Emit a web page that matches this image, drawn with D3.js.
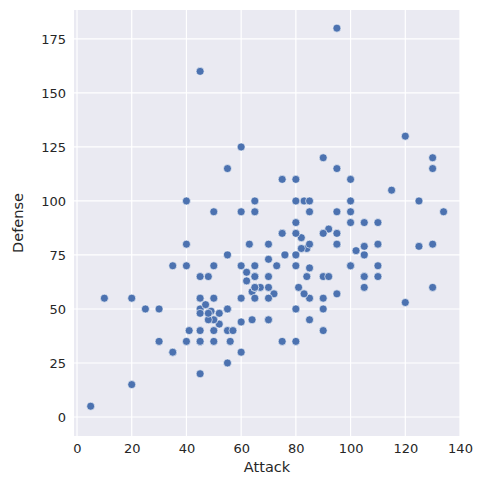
<!DOCTYPE html>
<html><head><meta charset="utf-8">
<script src="https://cdn.jsdelivr.net/npm/d3@7"></script>
<style>body{margin:0;background:#fff}text{font-family:"DejaVu Sans",sans-serif}</style>
</head><body><div id="chart"></div>
<script>
// Attack / Defense pairs
const attack = [49,62,82,52,64,84,48,63,83,30,20,45,35,25,90,45,60,80,56,81,60,90,60,85,55,90,75,100,47,62,92,57,72,102,45,70,41,76,45,70,45,80,50,65,80,70,95,55,65,55,80,45,70,52,82,80,105,70,110,50,65,95,20,35,50,80,100,130,75,90,105,40,70,80,95,120,85,100,65,75,35,60,65,85,110,45,70,80,105,65,95,35,50,65,45,48,73,105,130,30,50,40,95,50,80,120,105,55,65,90,85,130,5,55,95,40,65,67,92,45,75,45,110,50,83,95,125,100,10,125,85,48,55,65,65,130,60,40,60,80,115,105,110,85,90,100,64,84,134,110,100];
const defense = [49,63,83,43,58,78,65,80,100,35,55,50,30,50,40,40,55,75,35,60,30,65,44,69,40,55,85,110,52,67,87,40,57,77,48,73,40,75,20,45,35,70,55,70,85,55,80,50,60,25,50,35,60,48,78,35,60,45,80,40,65,95,15,30,45,50,70,80,35,50,65,35,65,100,115,130,55,70,65,110,70,95,55,45,70,55,80,50,75,100,180,30,45,60,160,45,70,90,115,50,70,80,85,95,110,53,79,75,95,120,95,120,5,115,80,70,95,60,65,55,85,65,80,35,57,57,100,95,55,79,80,48,50,60,60,60,70,100,125,90,105,65,65,100,85,90,45,65,95,90,100];
const xTicks = [0,20,40,60,80,100,120,140];
const yTicks = [0,25,50,75,100,125,150,175];

const W = 484, H = 484;
const m = {left: 74, right: 24, top: 10, bottom: 48};
const svg = d3.select("#chart").append("svg").attr("width", W).attr("height", H);

const x = d3.scaleLinear().domain([-1.1, 140]).range([m.left, W - m.right]);
const y = d3.scaleLinear().domain([-8.8, 188.4]).range([H - m.bottom, m.top]);

svg.append("rect").attr("x", m.left).attr("y", m.top)
  .attr("width", W - m.left - m.right).attr("height", H - m.top - m.bottom).attr("fill", "#eaeaf2");

const grid = svg.append("g").attr("stroke", "#fff").attr("stroke-width", 1.2);
xTicks.forEach(t => grid.append("line").attr("x1", x(t)).attr("x2", x(t)).attr("y1", m.top).attr("y2", H - m.bottom));
yTicks.forEach(t => grid.append("line").attr("y1", y(t)).attr("y2", y(t)).attr("x1", m.left).attr("x2", W - m.right));

const xa = svg.append("g").attr("transform", `translate(0,${H - m.bottom})`)
  .call(d3.axisBottom(x).tickValues(xTicks).tickSize(0).tickPadding(8));
const ya = svg.append("g").attr("transform", `translate(${m.left},0)`)
  .call(d3.axisLeft(y).tickValues(yTicks).tickSize(0).tickPadding(8));
[xa, ya].forEach(a => {
  a.select(".domain").remove();
  a.selectAll("text").attr("font-size", 13).attr("fill", "#262626").style("font-family", "DejaVu Sans");
});

svg.append("text").attr("x", (m.left + W - m.right) / 2).attr("y", H - 12)
  .attr("text-anchor", "middle").attr("font-size", 14.5).attr("fill", "#262626").text("Attack");
svg.append("text").attr("transform", `translate(23,${(m.top + H - m.bottom) / 2}) rotate(-90)`)
  .attr("text-anchor", "middle").attr("font-size", 14.5).attr("fill", "#262626").text("Defense");

svg.append("g").selectAll("circle").data(attack).enter().append("circle")
  .attr("cx", d => x(d)).attr("cy", (d, i) => y(defense[i])).attr("r", 4)
  .attr("fill", "#4c72b0").attr("stroke", "#fff").attr("stroke-width", 0.6);
</script></body></html>
